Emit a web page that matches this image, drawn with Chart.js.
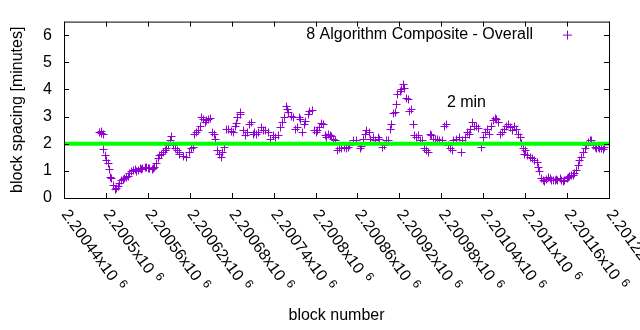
<!DOCTYPE html>
<html lang="en">
<head>
<meta charset="UTF-8" />
<title>Block spacing - 8 Algorithm Composite</title>
<style>
  html, body { margin: 0; padding: 0; background: #fff; }
  #chart { display: block; }
</style>
<script src="https://cdn.jsdelivr.net/npm/chart.js"></script>
</head>
<body>
<canvas id="chart" width="640" height="330"></canvas>
<script>
// block numbers of the plotted points
const blocks = [
  2200491, 2200493, 2200494, 2200496, 2200497, 2200499, 2200501, 2200503, 2200505, 2200507, 2200508, 2200511,
  2200513, 2200515, 2200518, 2200520, 2200523, 2200525, 2200527, 2200530, 2200532, 2200534, 2200537, 2200539,
  2200542, 2200544, 2200546, 2200549, 2200551, 2200553, 2200556, 2200558, 2200561, 2200563, 2200566, 2200568,
  2200570, 2200573, 2200575, 2200577, 2200580, 2200582, 2200585, 2200587, 2200589, 2200592, 2200594, 2200596,
  2200599, 2200602, 2200605, 2200606, 2200611, 2200616, 2200619, 2200623, 2200625, 2200627, 2200630, 2200632,
  2200635, 2200637, 2200639, 2200642, 2200644, 2200647, 2200649, 2200652, 2200655, 2200657, 2200660, 2200662,
  2200665, 2200667, 2200669, 2200673, 2200676, 2200680, 2200682, 2200685, 2200687, 2200689, 2200692, 2200693,
  2200697, 2200700, 2200703, 2200705, 2200708, 2200711, 2200713, 2200716, 2200719, 2200722, 2200725, 2200728,
  2200732, 2200735, 2200740, 2200742, 2200747, 2200750, 2200753, 2200755, 2200758, 2200760, 2200762, 2200766,
  2200768, 2200771, 2200774, 2200777, 2200779, 2200782, 2200784, 2200786, 2200790, 2200792, 2200795, 2200798,
  2200801, 2200803, 2200805, 2200809, 2200811, 2200814, 2200816, 2200818, 2200821, 2200823, 2200825, 2200829,
  2200831, 2200834, 2200837, 2200841, 2200844, 2200847, 2200849, 2200854, 2200859, 2200864, 2200866, 2200868,
  2200871, 2200873, 2200877, 2200879, 2200883, 2200886, 2200890, 2200892, 2200896, 2200898, 2200902, 2200904,
  2200907, 2200909, 2200911, 2200914, 2200916, 2200918, 2200921, 2200923, 2200926, 2200928, 2200930, 2200933,
  2200935, 2200937, 2200940, 2200942, 2200945, 2200947, 2200950, 2200953, 2200956, 2200959, 2200961, 2200964,
  2200966, 2200969, 2200971, 2200974, 2200978, 2200982, 2200984, 2200987, 2200990, 2200993, 2200996, 2200998,
  2201002, 2201006, 2201009, 2201011, 2201014, 2201017, 2201020, 2201022, 2201025, 2201027, 2201030, 2201033,
  2201038, 2201040, 2201043, 2201046, 2201049, 2201052, 2201055, 2201057, 2201059, 2201062, 2201065, 2201068,
  2201071, 2201074, 2201076, 2201079, 2201082, 2201085, 2201088, 2201090, 2201093, 2201095, 2201097, 2201099,
  2201101, 2201104, 2201107, 2201110, 2201113, 2201117, 2201119, 2201121, 2201124, 2201126, 2201128, 2201131,
  2201133, 2201136, 2201138, 2201140, 2201143, 2201145, 2201147, 2201150, 2201152, 2201155, 2201157, 2201160,
  2201162, 2201164, 2201167, 2201169, 2201171, 2201174, 2201176, 2201178, 2201181, 2201183, 2201186, 2201188,
  2201190, 2201193, 2201195, 2201198, 2201200, 2201202, 2201205, 2201207, 2201209, 2201212, 2201214
];

// block spacing in minutes, one per block above
const spacing = [
  2.41, 2.38, 2.44, 2.33, 1.77, 1.56, 1.38, 1.26, 1.04, 0.75, 0.72, 0.47,
  0.32, 0.35, 0.41, 0.53, 0.63, 0.68, 0.72, 0.77, 0.81, 0.90, 0.96, 1.02,
  1.04, 0.99, 1.02, 1.07, 1.04, 1.08, 1.12, 1.14, 1.08, 1.07, 1.05, 1.09,
  1.12, 1.26, 1.44, 1.56, 1.62, 1.68, 1.75, 1.81, 1.93, 2.11, 2.25, 1.93,
  1.81, 1.75, 1.68, 1.62, 1.53, 1.48, 1.68, 1.81, 1.87, 2.35, 2.41, 2.47,
  2.65, 2.96, 2.90, 2.78, 2.84, 2.90, 2.93, 2.41, 2.35, 2.17, 1.75, 1.62,
  1.50, 1.68, 1.87, 2.53, 2.53, 2.45, 2.41, 2.65, 2.74, 2.98, 3.14, 3.08,
  2.50, 2.29, 2.41, 2.72, 2.78, 2.35, 2.41, 2.35, 2.41, 2.59, 2.47, 2.47,
  2.41, 2.17, 2.29, 2.23, 2.29, 2.59, 2.78, 2.96, 3.38, 3.26, 3.14, 3.02,
  2.98, 2.53, 2.59, 2.98, 2.90, 2.41, 2.72, 2.81, 3.08, 3.20, 3.23, 2.47,
  2.41, 2.47, 2.59, 2.74, 2.72, 2.29, 2.23, 2.35, 2.29, 2.25, 2.17, 2.11,
  1.75, 1.81, 1.81, 1.87, 1.81, 1.87, 1.93, 2.11, 2.11, 1.81, 1.89, 2.17,
  2.35, 2.47, 2.41, 2.17, 2.23, 2.11, 2.23, 2.17, 1.87, 1.93, 2.11, 2.13,
  2.53, 2.72, 3.10, 3.14, 3.44, 3.81, 3.93, 3.99, 4.17, 4.05, 3.68, 3.62,
  3.20, 3.26, 2.72, 2.29, 2.23, 2.29, 2.11, 2.11, 1.84, 1.75, 1.68, 2.35,
  2.29, 2.17, 2.17, 2.17, 2.11, 2.11, 2.65, 2.72, 1.93, 1.81, 1.75, 2.11,
  2.17, 2.23, 1.68, 2.11, 2.23, 2.41, 2.35, 2.53, 2.78, 2.65, 2.62, 2.57,
  1.87, 2.23, 2.41, 2.53, 2.35, 2.65, 2.84, 2.93, 2.90, 2.78, 2.35, 2.41,
  2.53, 2.65, 2.72, 2.59, 2.47, 2.65, 2.53, 2.35, 2.23, 1.99, 1.81, 1.62,
  1.75, 1.56, 1.50, 1.44, 1.38, 1.32, 1.14, 0.96, 0.72, 0.65, 0.59, 0.68,
  0.75, 0.72, 0.65, 0.65, 0.63, 0.68, 0.65, 0.72, 0.65, 0.59, 0.63, 0.72,
  0.75, 0.80, 0.84, 0.84, 0.90, 1.02, 1.20, 1.38, 1.50, 1.68, 1.81, 1.93,
  2.05, 2.11, 2.13, 1.93, 1.87, 1.81, 1.87, 1.84, 1.81, 1.77, 1.85
];

// the 2 minute target line
const targetBlocks = [2200440, 2201220];
const targetSpacing = [2, 2];

const xTicks = [2200440, 2200500, 2200560, 2200620, 2200680, 2200740, 2200800,
                2200860, 2200920, 2200980, 2201040, 2201100, 2201160, 2201220];
const yTicks = [0, 1, 2, 3, 4, 5, 6];

const seriesLabel = '8 Algorithm Composite - Overall';
const minLabel = { text: '2 min', block: 2200988, value: 3.5 };

const FONT = '"Liberation Sans", Arial, sans-serif';
const PURPLE = '#9400d3';
const GREEN = '#00ff00';

// snap the "+" markers to pixel centres so the 1px strokes stay crisp
const snapPoints = {
  id: 'snapPoints',
  afterDatasetsUpdate(chart) {
    chart.data.datasets.forEach((ds, i) => {
      if (ds.pointStyle !== 'cross') return;
      chart.getDatasetMeta(i).data.forEach(el => {
        el.x = Math.round(el.x - 0.5) + 0.5;
        el.y = Math.round(el.y - 0.5) + 0.5;
      });
    });
  }
};

// gnuplot style frame, inward ticks, rotated tick labels, key and label
const gnuplotFrame = {
  id: 'gnuplotFrame',
  afterDraw(chart) {
    const { ctx, chartArea: a, scales: { x, y } } = chart;
    ctx.save();
    ctx.strokeStyle = '#000';
    ctx.lineWidth = 1;
    ctx.strokeRect(a.left + 0.5, a.top + 0.5, a.right - a.left, a.bottom - a.top);

    ctx.beginPath();
    yTicks.forEach(v => {
      const py = Math.round(y.getPixelForValue(v)) + 0.5;
      ctx.moveTo(a.left, py); ctx.lineTo(a.left + 5, py);
      ctx.moveTo(a.right, py); ctx.lineTo(a.right - 5, py);
    });
    xTicks.forEach(v => {
      const px = Math.round(x.getPixelForValue(v)) + 0.5;
      ctx.moveTo(px, a.bottom); ctx.lineTo(px, a.bottom - 5);
      ctx.moveTo(px, a.top); ctx.lineTo(px, a.top + 5);
    });
    ctx.stroke();

    // x tick labels, turned clockwise and hanging from the tick
    ctx.fillStyle = '#000';
    ctx.textAlign = 'left';
    ctx.textBaseline = 'top';
    xTicks.forEach(v => {
      const px = x.getPixelForValue(v);
      const main = String(+(v / 1e6).toFixed(5)) + 'x10';
      ctx.save();
      ctx.translate(px + 7, a.bottom + 9);
      ctx.rotate(54 * Math.PI / 180);
      ctx.font = '16px ' + FONT;
      ctx.fillText(main, 0, 0);
      const w = ctx.measureText(main).width;
      ctx.font = '12px ' + FONT;
      ctx.fillText('6', w + 6, -2.5);
      ctx.restore();
    });

    // key
    ctx.font = '16px ' + FONT;
    ctx.textAlign = 'right';
    ctx.textBaseline = 'middle';
    ctx.fillText(seriesLabel, a.right - 76, a.top + 13);
    const kx = a.right - 42, ky = a.top + 13;
    ctx.fillStyle = PURPLE;
    ctx.fillRect(kx, ky - 4, 1, 9);
    ctx.fillRect(kx - 4, ky, 9, 1);

    // "2 min" label
    ctx.fillStyle = '#000';
    ctx.textAlign = 'left';
    ctx.fillText(minLabel.text, x.getPixelForValue(minLabel.block), y.getPixelForValue(minLabel.value));
    ctx.restore();
  }
};

new Chart(document.getElementById('chart'), {
  type: 'scatter',
  data: {
    datasets: [
      {
        label: '2 min',
        data: targetBlocks.map((b, i) => ({ x: b, y: targetSpacing[i] })),
        showLine: true,
        borderColor: GREEN,
        borderWidth: 4,
        pointRadius: 0,
        order: 0
      },
      {
        label: seriesLabel,
        data: blocks.map((b, i) => ({ x: b, y: spacing[i] })),
        pointStyle: 'cross',
        pointRadius: 4,
        borderColor: PURPLE,
        backgroundColor: PURPLE,
        borderWidth: 1,
        order: 1
      }
    ]
  },
  options: {
    responsive: false,
    devicePixelRatio: 1,
    animation: false,
    layout: { padding: { top: 19, right: 31, left: 0, bottom: 0 } },
    plugins: { legend: { display: false }, tooltip: { enabled: false } },
    scales: {
      x: {
        type: 'linear',
        min: 2200440,
        max: 2201220,
        afterBuildTicks: s => { s.ticks = xTicks.map(v => ({ value: v })); },
        afterFit: s => { s.height = 132; },
        ticks: { display: false },
        grid: { display: false, drawTicks: false },
        border: { display: false },
        title: {
          display: true,
          text: 'block number',
          color: '#000',
          font: { family: FONT, size: 16 },
          padding: { top: 0, bottom: 5 }
        }
      },
      y: {
        min: 0,
        max: 6.5,
        afterBuildTicks: s => { s.ticks = yTicks.map(v => ({ value: v })); },
        afterFit: s => { s.width = 64; },
        ticks: { color: '#000', font: { family: FONT, size: 16 }, padding: 12 },
        grid: { display: false, drawTicks: false },
        border: { display: false },
        title: {
          display: true,
          text: 'block spacing [minutes]',
          color: '#000',
          font: { family: FONT, size: 16 },
          padding: { top: 7.5, bottom: 0 }
        }
      }
    }
  },
  plugins: [snapPoints, gnuplotFrame]
});
</script>
</body>
</html>
